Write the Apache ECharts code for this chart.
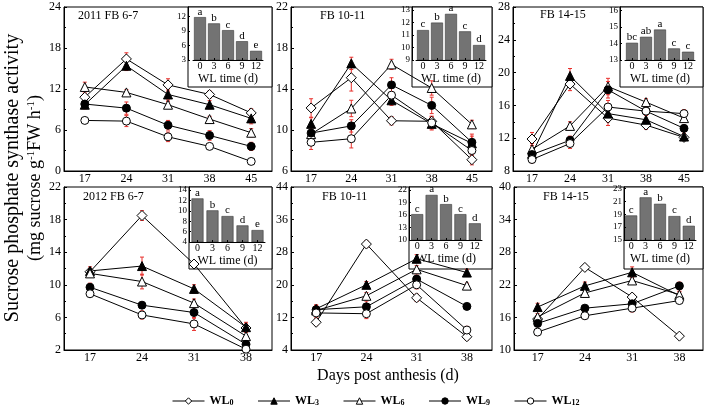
<!DOCTYPE html>
<html><head><meta charset="utf-8">
<script src="https://cdn.jsdelivr.net/npm/echarts@6/dist/echarts.min.js"></script>
<style>html,body{margin:0;padding:0;background:#fff}#c{width:708px;height:409px}</style>
</head><body><div id="c"></div>
<script>
const daysTop = ['17','24','31','38','45'];
const daysBottom = ['17','24','31','38'];
const wlNames = ['WL0','WL3','WL6','WL9','WL12'];
const wlTimes = ['0','3','6','9','12'];
const panelTitles = ['2011 FB 6-7','FB 10-11','FB 14-15','2012 FB 6-7','FB 10-11','FB 14-15'];

// Mean values per panel, rows = WL0, WL3, WL6, WL9, WL12
const p1Mean = [[10.8,16.4,12.6,11.2,8.5],[9.7,15.4,11.2,9.7,7.7],[12.3,11.5,9.7,7.6,5.6],[9.8,9.2,6.7,5.2,3.6],[7.4,7.3,5.0,3.6,1.4]];
const p2Mean = [[12.15,15.1,10.9,10.85,7.1],[10.6,16.5,12.9,10.6,8.7],[9.6,12.1,16.4,14.1,10.55],[9.7,10.4,14.4,12.4,8.8],[8.8,9.15,13.4,10.7,8.0]];
const p3Mean = [[11.9,18.6,14.45,13.6,12.1],[10.1,19.6,15.0,14.25,12.2],[10.65,13.5,18.3,16.4,14.45],[10.0,11.75,17.9,15.3,13.2],[9.4,11.35,15.8,15.3,15.0]];
const p4Mean = [[11.6,18.5,12.55,4.7],[11.7,12.3,9.5,4.8],[11.4,10.4,7.75,3.7],[9.7,7.5,6.6,2.7],[8.9,6.3,5.2,2.1]];
const p5Mean = [[10.8,30.0,16.8,7.25],[14.1,20.0,26.4,23.0],[13.7,17.3,23.8,19.8],[13.9,14.6,21.4,14.7],[13.1,12.9,20.0,8.9]];
const p6Mean = [[15.7,25.2,19.75,12.55],[17.9,21.8,24.3,20.0],[16.1,20.5,22.8,20.2],[14.9,17.7,18.5,21.8],[13.3,16.3,17.7,19.1]];

// Error bar half-lengths
const p1Err = [[0.6,0.9,0.9,0.5,0.6],[0.6,0.7,0.8,0.6,0.8],[0.7,0.4,0.5,0.4,0.6],[0.5,0.9,0.7,0.7,0.6],[0.3,0.8,0.7,0.4,0.3]];
const p2Err = [[0.9,1.3,0.4,0.5,0.5],[0.6,0.6,0.5,0.6,0.7],[0.6,0.8,0.5,0.7,0.4],[0.8,0.6,0.7,0.8,0.8],[0.7,0.9,0.8,0.6,0.5]];
const p3Err = [[0.8,0.8,0.9,0.5,0.4],[0.5,0.9,1.0,0.6,0.4],[0.7,0.5,1.0,0.4,0.5],[0.5,0.5,1.0,0.5,0.4],[0.4,0.6,0.8,0.5,0.5]];
const p4Err = [[0.4,0.6,0.4,0.5],[0.5,1.1,0.5,0.6],[0.5,0.9,0.5,0.5],[0.5,0.4,0.7,0.4],[0.3,0.5,0.8,0.4]];
const p5Err = [[0.8,0.8,0.9,0.8],[1.0,0.8,1.0,0.8],[1.0,0.8,0.9,0.6],[1.0,1.4,1.0,0.6],[1.2,1.2,1.0,0.9]];
const p6Err = [[0.6,0.5,0.6,0.4],[0.7,0.7,1.0,0.7],[0.6,0.8,0.7,0.6],[0.6,0.5,0.7,0.7],[0.5,0.6,0.7,0.5]];

// Inset bar values (WL time 0,3,6,9,12) and significance letters
const ins1Values = [11.9,10.6,9.2,6.9,4.9];   const ins1Letters = ['a','b','c','d','e'];
const ins2Values = [11.4,12.0,12.7,11.3,10.2]; const ins2Letters = ['c','b','a','c','d'];
const ins3Values = [14.04,14.4,14.84,13.7,13.5]; const ins3Letters = ['bc','ab','a','c','c'];
const ins4Values = [12.4,10.1,9.0,7.2,6.3];   const ins4Letters = ['a','b','c','d','e'];
const ins5Values = [16.2,20.8,18.6,16.2,14.0]; const ins5Letters = ['c','a','b','c','d'];
const ins6Values = [18.8,21.6,20.6,18.7,17.2]; const ins6Letters = ['c','a','b','c','d'];

// ---------- layout / style (not data) ----------
const FONT = '"Liberation Serif", "Times New Roman", serif';
const means = [p1Mean,p2Mean,p3Mean,p4Mean,p5Mean,p6Mean];
const errs = [p1Err,p2Err,p3Err,p4Err,p5Err,p6Err];
const insVals = [ins1Values,ins2Values,ins3Values,ins4Values,ins5Values,ins6Values];
const insLet = [ins1Letters,ins2Letters,ins3Letters,ins4Letters,ins5Letters,ins6Letters];
const mainLayout = [
  {left:64, top:7, width:208, height:164, min:0, max:24, interval:6, cats:daysTop},
  {left:291, top:7, width:201, height:164, min:6, max:22, interval:4, cats:daysTop},
  {left:513, top:7, width:190, height:164, min:8, max:28, interval:4, cats:daysTop},
  {left:64, top:187, width:208, height:163, min:2, max:22, interval:4, cats:daysBottom},
  {left:291, top:187, width:201, height:163, min:4, max:44, interval:8, cats:daysBottom},
  {left:514, top:187, width:189, height:163, min:10, max:40, interval:6, cats:daysBottom}
];
const insLayout = [
  {box:188, right:272, top:7, boxBottom:87, gl:193, gw:70, base:60, min:3, max:14, interval:3},
  {box:412, right:492, top:7, boxBottom:87, gl:416, gw:70, base:60, min:9, max:13.25, interval:1},
  {box:620, right:703, top:7, boxBottom:87, gl:625, gw:70, base:60, min:13, max:16.2, interval:1},
  {box:189, right:272, top:187, boxBottom:269, gl:190, gw:75, base:242, min:4, max:14.6, interval:2},
  {box:409, right:492, top:187, boxBottom:269, gl:410, gw:72, base:240, min:10, max:22.7, interval:3},
  {box:624, right:703, top:187, boxBottom:269, gl:624, gw:72, base:240, min:15, max:23.2, interval:2}
];
const titlePos = [[78,10],[320,10],[540,9],[83,191],[322,191],[543,191]];
const symbols = [
  {symbol:'diamond', size:10, fill:'#fff'},
  {symbol:'triangle', size:9, fill:'#000'},
  {symbol:'triangle', size:9, fill:'#fff'},
  {symbol:'circle', size:8, fill:'#000'},
  {symbol:'circle', size:8, fill:'#fff'}
];

const grid = [], xAxis = [], yAxis = [], series = [], graphic = [], title = [];
mainLayout.forEach((L, p) => {
  grid.push({left:L.left, top:L.top, width:L.width, height:L.height, show:true, borderColor:'#000', borderWidth:1, backgroundColor:'transparent'});
  xAxis.push({type:'category', gridIndex:p, data:L.cats, boundaryGap:true,
    axisLine:{lineStyle:{color:'#000', width:1}},
    axisTick:{inside:true, alignWithLabel:true, length:3, lineStyle:{color:'#000'}},
    axisLabel:{color:'#000', fontFamily:FONT, fontSize:12, margin:2}, splitLine:{show:false}});
  yAxis.push({type:'value', gridIndex:p, min:L.min, max:L.max, interval:L.interval,
    axisLine:{show:true, lineStyle:{color:'#000', width:1}},
    axisTick:{show:true, inside:true, length:3, lineStyle:{color:'#000'}},
    minorTick:{show:true, splitNumber:2, length:2, lineStyle:{color:'#000'}},
    axisLabel:{color:'#000', fontFamily:FONT, fontSize:12, margin:3}, splitLine:{show:false}});
  title.push({text:panelTitles[p], left:titlePos[p][0], top:titlePos[p][1], padding:0,
    textStyle:{fontFamily:FONT, fontSize:12, fontWeight:'normal', color:'#000'}});
});
insLayout.forEach((I, p) => {
  const gi = 6 + p;
  grid.push({left:I.gl, top:I.top, width:I.gw, height:I.base - I.top, show:false});
  xAxis.push({type:'category', gridIndex:gi, data:wlTimes, z:6,
    axisLine:{lineStyle:{color:'#000', width:1}},
    axisTick:{show:true, inside:true, alignWithLabel:true, length:2, lineStyle:{color:'#000'}},
    axisLabel:{color:'#000', fontFamily:FONT, fontSize:10, margin:1},
    name:'WL time (d)', nameLocation:'middle', nameGap:13,
    nameTextStyle:{color:'#000', fontFamily:FONT, fontSize:12}});
  yAxis.push({type:'value', gridIndex:gi, min:I.min, max:I.max, interval:I.interval, z:6, offset:I.gl - I.box,
    axisLine:{show:true, lineStyle:{color:'#000', width:1}},
    axisTick:{show:true, inside:true, length:2, lineStyle:{color:'#000'}},
    axisLabel:{color:'#000', fontFamily:FONT, fontSize:9, margin:2, showMaxLabel:false}, splitLine:{show:false}});
  graphic.push({type:'rect', z:1, shape:{x:I.box, y:I.top, width:I.right - I.box, height:I.boxBottom - I.top},
    style:{fill:'#fff', stroke:'#000', lineWidth:1}});
  series.push({type:'bar', xAxisIndex:gi, yAxisIndex:gi, data:insVals[p], barWidth:12, z:5,
    itemStyle:{color:'#737373', borderColor:'#3a3a3a', borderWidth:0.6},
    label:{show:true, position:'top', distance:0, color:'#000', fontFamily:FONT, fontSize:11,
      formatter:(d) => insLet[p][d.dataIndex]}});
});

function errRender(params, api) {
  const x = api.value(0);
  const lo = api.coord([x, api.value(1)]);
  const hi = api.coord([x, api.value(2)]);
  const w = 2;
  const st = {stroke:'#e8302c', lineWidth:1};
  return {type:'group', children:[
    {type:'line', shape:{x1:lo[0], y1:lo[1], x2:hi[0], y2:hi[1]}, style:st},
    {type:'line', shape:{x1:lo[0]-w, y1:lo[1], x2:lo[0]+w, y2:lo[1]}, style:st},
    {type:'line', shape:{x1:hi[0]-w, y1:hi[1], x2:hi[0]+w, y2:hi[1]}, style:st}
  ]};
}

means.forEach((M, p) => {
  M.forEach((vals, k) => {
    series.push({type:'custom', xAxisIndex:p, yAxisIndex:p, z:2, silent:true,
      encode:{x:0, y:[1,2]},
      data: vals.map((v, i) => [i, v - errs[p][k][i], v + errs[p][k][i]]),
      renderItem: errRender});
  });
  M.forEach((vals, k) => {
    const s = symbols[k];
    series.push({type:'line', name:wlNames[k], xAxisIndex:p, yAxisIndex:p, data:vals, z:3,
      symbol:s.symbol, symbolSize:s.size, showSymbol:true,
      itemStyle:{color:s.fill, borderColor:'#000', borderWidth:1},
      lineStyle:{color:'#000', width:1}});
  });
});

graphic.push({type:'text', x:13, y:178, rotation:Math.PI/2,
  style:{text:'Sucrose phosphate synthase activity', font:'20px ' + FONT, fill:'#000', textAlign:'center', textVerticalAlign:'middle'}});
graphic.push({type:'text', x:35, y:178, rotation:Math.PI/2,
  style:{text:'(mg sucrose g{s|-1}FW h{s|-1})', font:'18px ' + FONT, fill:'#000', textAlign:'center', textVerticalAlign:'middle',
    rich:{s:{font:'11px ' + FONT, fill:'#000', verticalAlign:'top'}}}});
graphic.push({type:'text', x:388, y:376,
  style:{text:'Days post anthesis (d)', font:'16px ' + FONT, fill:'#000', textAlign:'center', textVerticalAlign:'middle'}});

const option = {
  animation:false,
  backgroundColor:'#fff',
  title, grid, xAxis, yAxis, series, graphic,
  legend:{data:wlNames, left:167, top:390, itemWidth:32, itemHeight:8, itemGap:24,
    lineStyle:{width:1, color:'#000'}, itemStyle:{borderWidth:1, borderColor:'#000'},
    formatter:(n) => '{w|WL}{s|' + n.slice(2) + '}',
    textStyle:{rich:{w:{fontFamily:FONT, fontSize:12, fontWeight:'bold', color:'#000'},
      s:{fontFamily:FONT, fontSize:8, fontWeight:'bold', color:'#000', verticalAlign:'bottom', padding:[4,0,0,0]}}}}
};
const chart = echarts.init(document.getElementById('c'), null, {renderer:'canvas'});
chart.setOption(option);
</script></body></html>
